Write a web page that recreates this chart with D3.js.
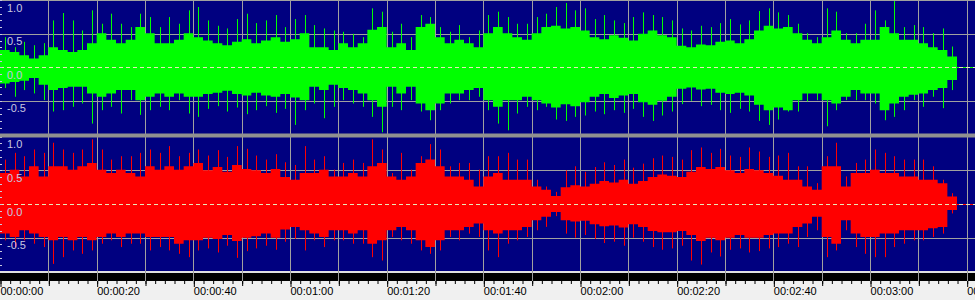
<!DOCTYPE html>
<html>
<head>
<meta charset="utf-8">
<script src="https://cdn.jsdelivr.net/npm/d3@7"></script>
<style>
  html, body { margin: 0; padding: 0; background: #f0f0f0; overflow: hidden; }
  svg { display: block; }
</style>
</head>
<body>
<svg id="chart" width="975" height="300"></svg>
<script>
// one value per 2 second bin, amplitudes (0..1)
const binSeconds = 2;

const greenBodyHi = [
  0.26, 0.23, 0.18, 0.13, 0.18, 0.30, 0.26, 0.23, 0.26, 0.36,
  0.51, 0.41, 0.36, 0.41, 0.60, 0.51, 0.36, 0.36, 0.41, 0.51,
  0.45, 0.40, 0.36, 0.33, 0.38, 0.42, 0.36, 0.40, 0.45, 0.38,
  0.42, 0.51, 0.30, 0.30, 0.26, 0.36, 0.30, 0.36, 0.56, 0.60,
  0.30, 0.36, 0.26, 0.60, 0.65, 0.45, 0.36, 0.41, 0.36, 0.30,
  0.51, 0.60, 0.51, 0.45, 0.41, 0.51, 0.60, 0.62, 0.58, 0.60,
  0.55, 0.45, 0.42, 0.48, 0.44, 0.40, 0.50, 0.55, 0.48, 0.45,
  0.32, 0.30, 0.34, 0.33, 0.38, 0.40, 0.36, 0.42, 0.55, 0.62,
  0.58, 0.60, 0.51, 0.41, 0.36, 0.45, 0.55, 0.41, 0.36, 0.41,
  0.41, 0.60, 0.51, 0.41, 0.41, 0.36, 0.30, 0.26, 0.16, 0.00
];
const greenBodyLo = [
  0.24, 0.22, 0.20, 0.16, 0.26, 0.34, 0.31, 0.29, 0.29, 0.39,
  0.44, 0.39, 0.34, 0.34, 0.49, 0.44, 0.39, 0.44, 0.39, 0.44,
  0.44, 0.40, 0.38, 0.35, 0.40, 0.42, 0.38, 0.42, 0.44, 0.40,
  0.45, 0.49, 0.29, 0.34, 0.26, 0.31, 0.34, 0.39, 0.49, 0.59,
  0.29, 0.39, 0.29, 0.54, 0.64, 0.54, 0.39, 0.39, 0.34, 0.31,
  0.49, 0.59, 0.49, 0.49, 0.44, 0.49, 0.54, 0.60, 0.55, 0.58,
  0.52, 0.44, 0.40, 0.46, 0.42, 0.40, 0.52, 0.56, 0.50, 0.44,
  0.32, 0.30, 0.33, 0.32, 0.38, 0.40, 0.38, 0.42, 0.56, 0.64,
  0.60, 0.64, 0.49, 0.39, 0.39, 0.49, 0.54, 0.44, 0.34, 0.39,
  0.39, 0.64, 0.54, 0.44, 0.41, 0.39, 0.34, 0.31, 0.19, 0.00
];
const greenPeakHi = [
  0.45, 0.30, 0.38, 0.33, 0.36, 0.70, 0.81, 0.70, 0.55, 0.85,
  0.65, 0.80, 0.65, 0.60, 0.80, 0.75, 0.60, 0.75, 0.65, 0.85,
  0.90, 0.70, 0.62, 0.58, 0.72, 0.80, 0.66, 0.70, 0.78, 0.60,
  0.72, 0.78, 0.63, 0.58, 0.55, 0.53, 0.50, 0.45, 0.88, 0.83,
  0.53, 0.65, 0.45, 0.78, 0.75, 0.60, 0.53, 0.63, 0.45, 0.55,
  0.78, 0.83, 0.75, 0.65, 0.65, 0.75, 0.80, 0.90, 0.96, 0.85,
  0.88, 0.72, 0.78, 0.70, 0.66, 0.75, 0.82, 0.78, 0.75, 0.70,
  0.58, 0.55, 0.62, 0.60, 0.66, 0.72, 0.64, 0.70, 0.84, 0.88,
  0.82, 0.78, 0.65, 0.51, 0.45, 0.88, 0.83, 0.51, 0.51, 0.65,
  0.85, 0.70, 1.00, 0.60, 0.63, 0.60, 0.51, 0.58, 0.31, 0.00
];
const greenPeakLo = [
  0.31, 0.44, 0.34, 0.39, 0.49, 0.66, 0.64, 0.59, 0.54, 0.84,
  0.64, 0.59, 0.69, 0.49, 0.71, 0.64, 0.59, 0.64, 0.49, 0.69,
  0.74, 0.62, 0.58, 0.66, 0.60, 0.70, 0.64, 0.58, 0.68, 0.62,
  0.86, 0.64, 0.54, 0.76, 0.59, 0.49, 0.54, 0.59, 0.74, 0.97,
  0.59, 0.64, 0.49, 0.66, 0.79, 0.64, 0.54, 0.49, 0.49, 0.44,
  0.64, 0.84, 0.94, 0.69, 0.59, 0.64, 0.59, 0.78, 0.80, 0.74,
  0.72, 0.66, 0.70, 0.64, 0.68, 0.62, 0.74, 0.80, 0.72, 0.66,
  0.55, 0.50, 0.58, 0.56, 0.64, 0.68, 0.62, 0.66, 0.80, 0.86,
  0.78, 0.66, 0.66, 0.51, 0.49, 0.88, 0.64, 0.49, 0.49, 0.49,
  0.54, 0.79, 0.74, 0.64, 0.49, 0.59, 0.44, 0.61, 0.34, 0.00
];

const redBodyHi = [
  0.46, 0.51, 0.41, 0.56, 0.41, 0.56, 0.56, 0.51, 0.56, 0.61,
  0.51, 0.46, 0.51, 0.46, 0.41, 0.56, 0.51, 0.56, 0.51, 0.56,
  0.61, 0.50, 0.55, 0.48, 0.58, 0.52, 0.50, 0.46, 0.52, 0.40,
  0.36, 0.46, 0.46, 0.51, 0.41, 0.41, 0.46, 0.41, 0.56, 0.61,
  0.41, 0.36, 0.41, 0.61, 0.66, 0.56, 0.41, 0.41, 0.36, 0.26,
  0.41, 0.46, 0.36, 0.36, 0.36, 0.26, 0.21, 0.12, 0.25, 0.28,
  0.26, 0.30, 0.34, 0.32, 0.36, 0.30, 0.34, 0.40, 0.44, 0.42,
  0.40, 0.48, 0.55, 0.52, 0.55, 0.50, 0.46, 0.52, 0.50, 0.46,
  0.42, 0.36, 0.36, 0.26, 0.21, 0.56, 0.56, 0.26, 0.46, 0.46,
  0.51, 0.46, 0.46, 0.41, 0.41, 0.36, 0.36, 0.31, 0.11, 0.00
];
const redBodyLo = [
  0.44, 0.49, 0.39, 0.44, 0.49, 0.54, 0.49, 0.54, 0.49, 0.54,
  0.49, 0.44, 0.49, 0.44, 0.44, 0.49, 0.49, 0.49, 0.59, 0.54,
  0.54, 0.50, 0.52, 0.46, 0.55, 0.50, 0.48, 0.44, 0.50, 0.38,
  0.34, 0.39, 0.44, 0.49, 0.39, 0.39, 0.44, 0.39, 0.59, 0.54,
  0.39, 0.34, 0.39, 0.54, 0.64, 0.54, 0.39, 0.39, 0.34, 0.29,
  0.39, 0.44, 0.39, 0.39, 0.34, 0.24, 0.19, 0.12, 0.24, 0.26,
  0.25, 0.30, 0.33, 0.32, 0.35, 0.30, 0.34, 0.40, 0.42, 0.42,
  0.40, 0.46, 0.55, 0.50, 0.54, 0.50, 0.46, 0.50, 0.50, 0.46,
  0.44, 0.44, 0.34, 0.29, 0.19, 0.49, 0.59, 0.24, 0.44, 0.49,
  0.49, 0.44, 0.44, 0.39, 0.39, 0.39, 0.36, 0.34, 0.09, 0.00
];
const redPeakHi = [
  0.66, 0.76, 0.71, 0.81, 0.76, 0.91, 0.81, 0.76, 0.81, 0.96,
  0.81, 0.66, 0.71, 0.71, 0.76, 0.81, 0.76, 0.86, 0.71, 0.76,
  0.81, 0.72, 0.80, 0.70, 0.86, 0.82, 0.72, 0.66, 0.74, 0.62,
  0.58, 0.86, 0.66, 0.71, 0.51, 0.61, 0.66, 0.61, 0.96, 0.81,
  0.46, 0.76, 0.51, 0.71, 0.89, 0.81, 0.56, 0.61, 0.61, 0.51,
  0.71, 0.71, 0.76, 0.66, 0.66, 0.36, 0.26, 0.18, 0.50, 0.56,
  0.48, 0.55, 0.62, 0.58, 0.66, 0.54, 0.60, 0.68, 0.72, 0.70,
  0.66, 0.80, 0.84, 0.76, 0.82, 0.72, 0.70, 0.84, 0.78, 0.70,
  0.72, 0.76, 0.56, 0.56, 0.31, 0.71, 0.91, 0.41, 0.61, 0.66,
  0.81, 0.76, 0.71, 0.66, 0.66, 0.66, 0.56, 0.36, 0.16, 0.00
];
const redPeakLo = [
  0.54, 0.64, 0.54, 0.59, 0.64, 0.89, 0.79, 0.69, 0.74, 0.69,
  0.59, 0.54, 0.64, 0.59, 0.59, 0.69, 0.64, 0.69, 0.74, 0.79,
  0.69, 0.66, 0.72, 0.62, 0.80, 0.70, 0.66, 0.62, 0.68, 0.56,
  0.52, 0.69, 0.54, 0.64, 0.54, 0.54, 0.59, 0.59, 0.79, 0.84,
  0.49, 0.54, 0.59, 0.69, 0.74, 0.69, 0.49, 0.54, 0.44, 0.49,
  0.69, 0.79, 0.59, 0.54, 0.49, 0.39, 0.34, 0.18, 0.44, 0.50,
  0.46, 0.52, 0.58, 0.56, 0.62, 0.50, 0.56, 0.64, 0.68, 0.66,
  0.62, 0.84, 0.90, 0.72, 0.78, 0.68, 0.66, 0.72, 0.70, 0.66,
  0.64, 0.59, 0.64, 0.49, 0.39, 0.79, 0.69, 0.39, 0.64, 0.74,
  0.79, 0.79, 0.64, 0.59, 0.54, 0.54, 0.49, 0.44, 0.14, 0.00
];

const levelTicks = [1.0, 0.5, 0.0, -0.5];
const levelLabels = ["1.0", "0.5", "0.0", "-0.5"];
const timeMajor = [0, 20, 40, 60, 80, 100, 120, 140, 160, 180, 200];
const timeLabels = ["00:00:00", "00:00:20", "00:00:40", "00:01:00", "00:01:20", "00:01:40",
  "00:02:00", "00:02:20", "00:02:40", "00:03:00", "00:03:20"];

const width = 975;
const svg = d3.select("#chart");

const x = d3.scaleLinear().domain([0, 201.72]).range([0, width]);

const channels = [
  { hi: greenBodyHi, lo: greenBodyLo, peakHi: greenPeakHi, peakLo: greenPeakLo,
    color: "#00ff00", range: [134.3, 0.3], clip: [1, 133.5] },
  { hi: redBodyHi, lo: redBodyLo, peakHi: redPeakHi, peakLo: redPeakLo,
    color: "#ff0000", range: [271.3, 136.7], clip: [137.5, 271] }
];

// navy backdrop for both channels
svg.append("rect").attr("x", 0).attr("y", 0).attr("width", width).attr("height", 271)
  .attr("fill", "#000080");

// vertical grid every 10 s
svg.append("g")
  .selectAll("line")
  .data(d3.range(10, 210, 10))
  .join("line")
  .attr("x1", d => Math.round(x(d)) + 0.5)
  .attr("x2", d => Math.round(x(d)) + 0.5)
  .attr("y1", 0)
  .attr("y2", 281)
  .attr("stroke", "#a0a0a0")
  .attr("stroke-width", 1);

// top border
svg.append("rect").attr("x", 0).attr("y", 0).attr("width", width).attr("height", 1)
  .attr("fill", "#a0a0a0");

const defs = svg.append("defs");

channels.forEach((ch, ci) => {
  const y = d3.scaleLinear().domain([-1, 1]).range(ch.range);

  // horizontal grid at +-0.5
  svg.append("g")
    .selectAll("line")
    .data([0.5, -0.5])
    .join("line")
    .attr("x1", 0)
    .attr("x2", width)
    .attr("y1", d => Math.round(y(d)) + 0.5)
    .attr("y2", d => Math.round(y(d)) + 0.5)
    .attr("stroke", "#a0a0a0");

  defs.append("clipPath").attr("id", "clip" + ci)
    .append("rect")
    .attr("x", 0).attr("y", ch.clip[0])
    .attr("width", width).attr("height", ch.clip[1] - ch.clip[0]);

  const wave = svg.append("g").attr("clip-path", `url(#clip${ci})`);

  const bins = ch.hi.map((h, i) => ({ t: i * binSeconds, hi: h, lo: ch.lo[i] }));
  bins.push({ t: bins.length * binSeconds, hi: 0, lo: 0 });

  const area = d3.area()
    .x(d => x(d.t))
    .y0(d => y(-d.lo))
    .y1(d => y(d.hi))
    .curve(d3.curveStepAfter);

  wave.append("path")
    .datum(bins)
    .attr("d", area)
    .attr("fill", ch.color);

  // thin peaks sticking out of the body
  wave.selectAll("line.peak")
    .data(ch.peakHi.map((p, i) => ({ t: i * binSeconds + binSeconds / 2, hi: p, lo: ch.peakLo[i] })))
    .join("line")
    .attr("class", "peak")
    .attr("x1", d => Math.round(x(d.t)) + 0.5)
    .attr("x2", d => Math.round(x(d.t)) + 0.5)
    .attr("y1", d => y(d.hi))
    .attr("y2", d => y(-d.lo))
    .attr("stroke", ch.color)
    .attr("stroke-width", 1);

  const y0 = Math.round(y(0)) + 0.5;
  wave.append("line")
    .attr("x1", 0).attr("x2", width)
    .attr("y1", y0).attr("y2", y0)
    .attr("stroke", ch.color);

  wave.append("line")
    .attr("x1", 0).attr("x2", width)
    .attr("y1", y0).attr("y2", y0)
    .attr("stroke", "#e8e8b8")
    .attr("stroke-dasharray", "4,3");

  // small level ticks on the left edge
  svg.append("g")
    .selectAll("line")
    .data(d3.range(-10, 11).map(d => d / 10))
    .join("line")
    .attr("x1", 0).attr("x2", 2)
    .attr("y1", d => Math.round(y(d)) + 0.5)
    .attr("y2", d => Math.round(y(d)) + 0.5)
    .attr("stroke", "#c8c8e0");

  svg.append("g")
    .selectAll("text")
    .data(levelTicks)
    .join("text")
    .attr("x", 7)
    .attr("y", d => y(d) + 11.5)
    .attr("fill", "#c8c8e0")
    .attr("font-family", '"Liberation Sans", Arial, sans-serif')
    .attr("font-size", "11px")
    .text((d, i) => levelLabels[i]);
});

// channel separator
svg.append("rect").attr("x", 0).attr("y", 133.5).attr("width", width).attr("height", 4)
  .attr("fill", "#909090");

// ruler strip
svg.append("rect").attr("x", 0).attr("y", 271).attr("width", width).attr("height", 2)
  .attr("fill", "#e0e0e0");
svg.append("rect").attr("x", 0).attr("y", 273).attr("width", width).attr("height", 8)
  .attr("fill", "#000000");

// grid lines continue through the black strip
svg.append("g")
  .selectAll("line")
  .data(d3.range(10, 210, 10))
  .join("line")
  .attr("x1", d => Math.round(x(d)) + 0.5)
  .attr("x2", d => Math.round(x(d)) + 0.5)
  .attr("y1", 271)
  .attr("y2", 281)
  .attr("stroke", "#a0a0a0");

const axisY = 281;
const minorAxis = d3.axisBottom(x).tickValues(d3.range(0, 202, 2)).tickSize(3).tickFormat("");
const midAxis = d3.axisBottom(x).tickValues(d3.range(10, 210, 20)).tickSize(5).tickFormat("");
const majorAxis = d3.axisBottom(x).tickValues(timeMajor).tickSize(6)
  .tickFormat((d, i) => timeLabels[i]);

[minorAxis, midAxis, majorAxis].forEach(ax => {
  const g = svg.append("g")
    .attr("transform", `translate(0,${axisY})`)
    .call(ax);
  g.select(".domain").remove();
  g.selectAll(".tick line")
    .attr("stroke", "#000")
    .attr("transform", "translate(0.5,0)");
  g.selectAll(".tick text")
    .attr("fill", "#000")
    .attr("font-family", '"Liberation Sans", Arial, sans-serif')
    .attr("font-size", "11px")
    .attr("text-anchor", "start")
    .attr("x", 0)
    .attr("y", 6)
    .attr("dy", "0.71em");
});
</script>
</body>
</html>
